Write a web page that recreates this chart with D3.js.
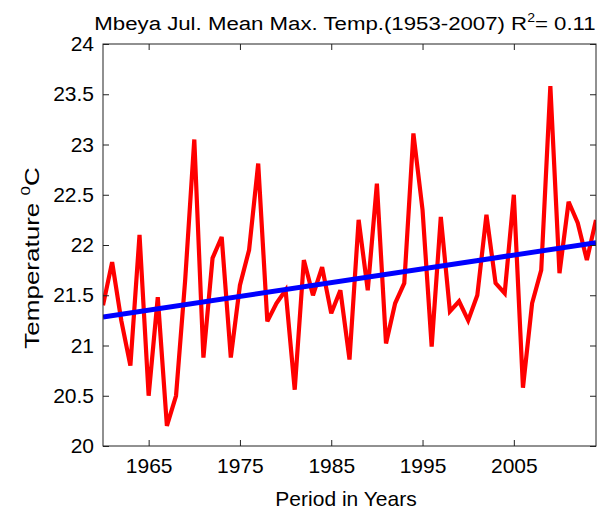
<!DOCTYPE html>
<html>
<head>
<meta charset="utf-8">
<script src="https://cdn.jsdelivr.net/npm/d3@7"></script>
<style>
  body { margin: 0; background: #fff; }
  text { font-family: Arial, "Liberation Sans", sans-serif; fill: #000; }
</style>
</head>
<body>
<svg id="chart" width="609" height="511"></svg>
<script>
//DATA////////////////////////////////
var years = d3.range(1960, 2015);
var temps = [
  21.4, 21.83, 21.25, 20.8, 22.1, 20.5, 21.48, 20.2, 20.5, 21.65,
  23.05, 20.88, 21.87, 22.08, 20.88, 21.6, 21.95, 22.81, 21.24, 21.42,
  21.55, 20.56, 21.85, 21.5, 21.78, 21.32, 21.55, 20.86, 22.25, 21.55,
  22.61, 21.02, 21.42, 21.62, 23.11, 22.35, 20.99, 22.28, 21.34, 21.44,
  21.25, 21.5, 22.3, 21.62, 21.52, 22.5, 20.58, 21.42, 21.75, 23.58,
  21.72, 22.43, 22.22, 21.85, 22.25
];
var xTicks = [1965, 1975, 1985, 1995, 2005];
var yTicks = [20, 20.5, 21, 21.5, 22, 22.5, 23, 23.5, 24];
var xDomain = [1960, 2014];
var yDomain = [20, 24];

//LAYOUT///////////////////////////////
var width = 609, height = 511;
var margin = { top: 44, right: 13, bottom: 65, left: 103 };
var w = width - margin.left - margin.right;
var h = height - margin.top - margin.bottom;

var svg = d3.select("#chart");
var g = svg.append("g").attr("transform", "translate(" + margin.left + "," + margin.top + ")");

var x = d3.scaleLinear().domain(xDomain).range([0, w]);
var y = d3.scaleLinear().domain(yDomain).range([h, 0]);

//LEAST SQUARES TREND//////////////////
var mx = d3.mean(years), my = d3.mean(temps);
var sxy = d3.sum(years, function (d, i) { return (d - mx) * (temps[i] - my); });
var sxx = d3.sum(years, function (d) { return (d - mx) * (d - mx); });
var slope = sxy / sxx, icpt = my - slope * mx;
var trend = xDomain.map(function (d) { return [d, icpt + slope * d]; });

var series = years.map(function (d, i) { return [d, temps[i]]; });

var line = d3.line()
  .x(function (d) { return x(d[0]); })
  .y(function (d) { return y(d[1]); });

//clip to axes box
svg.append("defs").append("clipPath").attr("id", "clip")
  .append("rect").attr("width", w).attr("height", h);

g.append("path")
  .datum(series)
  .attr("clip-path", "url(#clip)")
  .attr("d", line)
  .attr("fill", "none")
  .attr("stroke", "#ff0000")
  .attr("stroke-width", 4.2)
  .attr("stroke-linejoin", "miter")
  .attr("stroke-miterlimit", 3);

g.append("path")
  .datum(trend)
  .attr("clip-path", "url(#clip)")
  .attr("d", line)
  .attr("fill", "none")
  .attr("stroke", "#0000ff")
  .attr("stroke-width", 5);

//AXES (matlab box style, ticks inside)
var fs = "21px";
var xAxis = g.append("g").attr("transform", "translate(0," + h + ")")
  .call(d3.axisBottom(x).tickValues(xTicks).tickFormat(d3.format("d"))
    .tickSizeInner(-6).tickSizeOuter(0).tickPadding(12));
var xTop = g.append("g")
  .call(d3.axisTop(x).tickValues(xTicks).tickFormat("")
    .tickSizeInner(-6).tickSizeOuter(0));
var yAxis = g.append("g")
  .call(d3.axisLeft(y).tickValues(yTicks).tickFormat(d3.format(""))
    .tickSizeInner(-6).tickSizeOuter(0).tickPadding(9));
var yRight = g.append("g").attr("transform", "translate(" + w + ",0)")
  .call(d3.axisRight(y).tickValues(yTicks).tickFormat("")
    .tickSizeInner(-6).tickSizeOuter(0));

[xAxis, xTop, yAxis, yRight].forEach(function (a) {
  a.select(".domain").remove();
  a.selectAll(".tick line").attr("stroke", "#222");
  a.selectAll(".tick text").style("font-size", fs).attr("fill", "#000");
});

g.append("rect")
  .attr("width", w).attr("height", h)
  .attr("fill", "none").attr("stroke", "#222").attr("stroke-width", 1);

//TITLES///////////////////////////////
// title and ylabel are a bit wider in the source, stretched horizontally
var title = svg.append("text")
  .attr("transform", "translate(345,30) scale(1.17,1)")
  .attr("text-anchor", "middle")
  .style("font-size", "19px");
title.append("tspan").text("Mbeya Jul. Mean Max. Temp.(1953-2007) R");
title.append("tspan").attr("dy", -8).style("font-size", "12px").text("2");
title.append("tspan").attr("dy", 8).text("= 0.11");

svg.append("text")
  .attr("x", 346).attr("y", 506)
  .attr("text-anchor", "middle")
  .style("font-size", fs)
  .text("Period in Years");

var yt = svg.append("text")
  .attr("transform", "translate(39,258) rotate(-90) scale(1.3,1)")
  .attr("text-anchor", "middle")
  .style("font-size", "20px");
yt.append("tspan").text("Temperature ");
yt.append("tspan").attr("dy", -9).style("font-size", "13px").text("0");
yt.append("tspan").attr("dy", 9).text("C");
</script>
</body>
</html>
